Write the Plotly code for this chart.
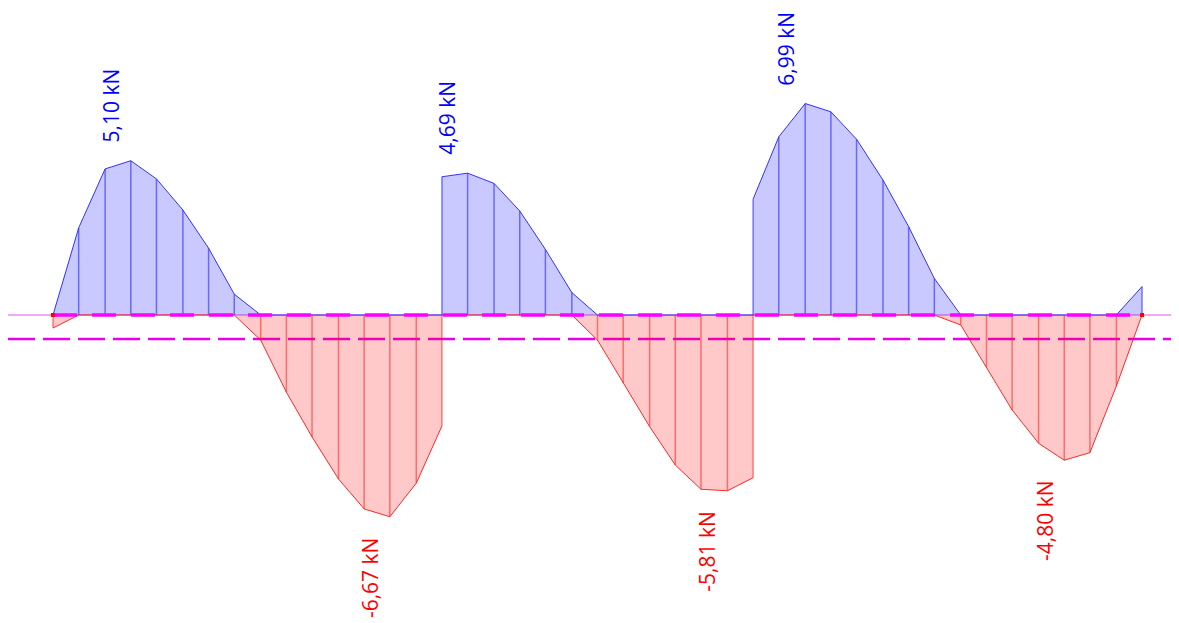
import plotly.graph_objects as go

# ---- data (kN) ----
span1_x = [0, 0.33, 0.67, 1, 1.33, 1.67, 2, 2.33, 2.67, 3, 3.33, 3.67, 4, 4.33, 4.67, 5]
span1_pos = [0, 2.88, 4.83, 5.10, 4.50, 3.47, 2.21, 0.69, 0, 0, 0, 0, 0, 0, 0, 0]
span1_neg = [-0.43, 0, 0, 0, 0, 0, 0, 0, -0.83, -2.55, -4.03, -5.42, -6.41, -6.67, -5.56, -3.67]

span2_x = [5, 5.33, 5.67, 6, 6.33, 6.67, 7, 7.33, 7.67, 8, 8.33, 8.67, 9]
span2_pos = [4.57, 4.69, 4.35, 3.44, 2.17, 0.74, 0, 0, 0, 0, 0, 0, 0]
span2_neg = [0, 0, 0, 0, 0, 0, -0.83, -2.25, -3.69, -4.96, -5.76, -5.81, -5.38]

span3_x = [9, 9.33, 9.67, 10, 10.33, 10.67, 11, 11.33, 11.67, 12, 12.33, 12.67, 13, 13.33, 13.67, 14]
span3_pos = [3.83, 5.89, 6.99, 6.72, 5.81, 4.46, 2.92, 1.21, 0, 0, 0, 0, 0, 0, 0, 0.94]
span3_neg = [0, 0, 0, 0, 0, 0, 0, 0, -0.33, -1.72, -3.14, -4.24, -4.80, -4.55, -2.35, 0]

ref_level = -0.79          # second dashed reference line
support_ends = [0, 14]     # end points (red dots)

spans = [(span1_x, span1_pos, span1_neg),
         (span2_x, span2_pos, span2_neg),
         (span3_x, span3_pos, span3_neg)]

# ---- styles ----
BLUE_LINE = "rgba(30,30,255,0.9)"
BLUE_VERT = "rgba(40,40,255,0.6)"
BLUE_FILL = "rgba(0,0,255,0.21)"
RED_LINE = "rgba(255,20,20,0.9)"
RED_VERT = "rgba(255,30,30,0.55)"
RED_FILL = "rgba(255,0,0,0.21)"
LABEL_FONT = "Open Sans"

X_RANGE = [-0.5785, 14.578]
Y_RANGE = [-10.446, 10.149]

fig = go.Figure()

# baseline (light pink) and reference dashed line across the full width
fig.add_trace(go.Scatter(x=X_RANGE, y=[0, 0], mode="lines",
                         line=dict(color="rgb(240,170,240)", width=2),
                         hoverinfo="skip", showlegend=False))
fig.add_trace(go.Scatter(x=X_RANGE, y=[ref_level, ref_level], mode="lines",
                         line=dict(color="rgb(235,0,235)", width=2.5, dash="27px,8px"),
                         hoverinfo="skip", showlegend=False))

for xs, pos, neg in spans:
    for vals, fillc, linec, vertc in ((pos, BLUE_FILL, BLUE_LINE, BLUE_VERT),
                                      (neg, RED_FILL, RED_LINE, RED_VERT)):
        fig.add_trace(go.Scatter(x=xs, y=vals, mode="lines", fill="tozeroy",
                                 fillcolor=fillc, line=dict(color=linec, width=1),
                                 hoverinfo="skip", showlegend=False))
        vx, vy = [], []
        for x, v in zip(xs, vals):
            if v != 0:
                vx += [x, x, None]
                vy += [0, v, None]
        fig.add_trace(go.Scatter(x=vx, y=vy, mode="lines",
                                 line=dict(color=vertc, width=1.5),
                                 hoverinfo="skip", showlegend=False))

# magenta dashes along the beam axis
fig.add_trace(go.Scatter(x=[support_ends[0], support_ends[1]], y=[0, 0], mode="lines",
                         line=dict(color="rgb(255,0,255)", width=3.5, dash="24px,15px"),
                         hoverinfo="skip", showlegend=False))
fig.add_trace(go.Scatter(x=support_ends, y=[0, 0], mode="markers",
                         marker=dict(color="red", size=4, symbol="square"),
                         hoverinfo="skip", showlegend=False))

def fmt(v):
    return f"{v:.2f}".replace(".", ",") + " kN"

for xs, pos, neg in spans:
    i = max(range(len(pos)), key=lambda k: pos[k])
    fig.add_annotation(x=xs[i], y=pos[i], text=fmt(pos[i]), textangle=-90,
                       showarrow=False, xanchor="right", yanchor="bottom",
                       xshift=-4, yshift=16,
                       font=dict(family=LABEL_FONT, size=21, color="rgb(0,0,255)"))
    j = min(range(len(neg)), key=lambda k: neg[k])
    fig.add_annotation(x=xs[j], y=neg[j], text=fmt(neg[j]), textangle=-90,
                       showarrow=False, xanchor="right", yanchor="top",
                       xshift=-4, yshift=-18,
                       font=dict(family=LABEL_FONT, size=21, color="rgb(255,0,0)"))

fig.update_layout(
    width=1179, height=623,
    margin=dict(l=0, r=0, t=0, b=0),
    paper_bgcolor="white", plot_bgcolor="white",
    xaxis=dict(range=X_RANGE, visible=False, fixedrange=True),
    yaxis=dict(range=Y_RANGE, visible=False, fixedrange=True),
)

fig.write_html("out.html")
